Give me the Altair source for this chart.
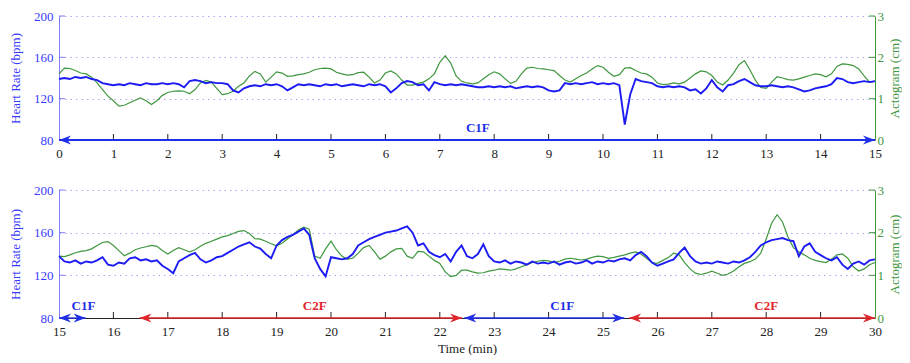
import altair as alt
import pandas as pd
import numpy as np

# ---------------- data ----------------
top_t = np.round(np.arange(0, 15.001, 0.1), 1)
top_hr = [
    139, 140, 139, 141, 140, 141, 139, 138, 135, 134,
    133, 134, 133, 135, 134, 133, 135, 134, 134, 135,
    134, 135, 134, 131, 137, 138, 137, 135, 136, 135,
    135, 134, 128, 126, 130, 132, 133, 132, 134, 133,
    134, 132, 128, 131, 134, 133, 134, 133, 132, 134,
    133, 134, 132, 133, 134, 133, 132, 134, 133, 134,
    132, 126, 130, 135, 137, 136, 133, 134, 128, 136,
    134, 133, 134, 133, 134, 133, 132, 131, 131, 132,
    131, 132, 131, 132, 130, 131, 132, 131, 132, 131,
    128, 127, 128, 135, 134, 135, 134, 135, 136, 134,
    135, 134, 135, 133, 95, 124, 139, 137, 136, 135,
    132, 131, 132, 131, 132, 131, 128, 129, 125, 130,
    138, 131, 127, 133, 134, 137, 139, 136, 133, 132,
    132, 133, 132, 131, 132, 131, 129, 127, 128, 130,
    131, 132, 134, 140, 139, 136, 135, 136, 137, 136,
    137,
]
top_act = [
    1.60, 1.74, 1.73, 1.68, 1.62, 1.60, 1.52, 1.38, 1.22, 1.06,
    0.95, 0.82, 0.84, 0.90, 0.96, 1.02, 0.95, 0.86, 0.95, 1.08,
    1.15, 1.18, 1.19, 1.18, 1.12, 1.22, 1.38, 1.44, 1.40, 1.25,
    1.10, 1.12, 1.18, 1.30, 1.38, 1.55, 1.66, 1.60, 1.40, 1.52,
    1.65, 1.62, 1.54, 1.55, 1.58, 1.60, 1.64, 1.70, 1.73, 1.74,
    1.72, 1.64, 1.60, 1.57, 1.58, 1.63, 1.64, 1.52, 1.38, 1.45,
    1.62, 1.67, 1.60, 1.45, 1.33, 1.33, 1.37, 1.40, 1.48, 1.60,
    1.88, 2.04, 1.86, 1.55, 1.42, 1.38, 1.36, 1.38, 1.48, 1.58,
    1.65, 1.60, 1.48, 1.37, 1.42, 1.60, 1.74, 1.76, 1.73, 1.72,
    1.70, 1.68, 1.56, 1.45, 1.40, 1.48, 1.56, 1.62, 1.72, 1.80,
    1.76, 1.64, 1.54, 1.58, 1.74, 1.75, 1.68, 1.62, 1.60, 1.52,
    1.38, 1.34, 1.35, 1.38, 1.36, 1.40, 1.50, 1.60, 1.67, 1.65,
    1.56, 1.40, 1.33, 1.45, 1.62, 1.82, 1.92, 1.70, 1.45, 1.27,
    1.25, 1.40, 1.53, 1.50, 1.46, 1.45, 1.48, 1.52, 1.56, 1.60,
    1.58, 1.53, 1.60, 1.78, 1.84, 1.83, 1.80, 1.72, 1.55, 1.40,
    1.42,
]

bot_t = np.round(np.arange(15, 30.001, 0.1), 1)
bot_hr = [
    138, 133, 132, 134, 131, 133, 132, 134, 137, 130,
    129, 132, 131, 136, 137, 134, 135, 133, 134, 129,
    126, 122, 133, 136, 139, 141, 135, 132, 134, 137,
    138, 141, 144, 147, 149, 151, 147, 145, 140, 136,
    148, 153, 156, 158, 161, 164, 158, 136, 126, 119,
    137, 136, 135, 136, 140, 148, 151, 154, 156, 158,
    160, 161, 162, 164, 166, 160, 148, 150, 142, 139,
    137, 140, 133, 142, 148, 138, 136, 140, 149, 138,
    133, 132, 134, 131, 133, 132, 130, 133, 131, 132,
    131, 133, 130, 132, 133, 131, 132, 134, 131, 133,
    132, 134, 133, 135, 136, 134, 139, 142, 138, 132,
    129, 131, 133, 135, 141, 146, 138, 133, 131, 132,
    131, 133, 132, 131, 133, 132, 134, 137, 142, 148,
    151, 153, 154, 155, 153, 152, 138, 147, 150, 142,
    139, 136, 134, 137, 130, 126, 131, 133, 130, 134,
    135,
]
bot_act = [
    1.45, 1.44, 1.48, 1.53, 1.56, 1.58, 1.62, 1.70, 1.77, 1.79,
    1.70, 1.58, 1.46, 1.52, 1.60, 1.64, 1.67, 1.70, 1.68, 1.58,
    1.50, 1.58, 1.65, 1.60, 1.55, 1.60, 1.68, 1.75, 1.80, 1.85,
    1.90, 1.93, 1.98, 2.03, 2.05, 1.98, 1.86, 1.85, 1.80, 1.74,
    1.69, 1.75, 1.85, 1.95, 2.06, 2.13, 2.08, 1.45, 1.40, 1.62,
    1.80, 1.60, 1.45, 1.38, 1.40, 1.52, 1.65, 1.70, 1.55, 1.38,
    1.45, 1.55, 1.62, 1.63, 1.45, 1.40, 1.56, 1.55, 1.45, 1.35,
    1.28, 1.08, 0.97, 1.00, 1.12, 1.12, 1.08, 1.05, 1.06, 1.10,
    1.12, 1.15, 1.14, 1.12, 1.15, 1.20, 1.25, 1.30, 1.33, 1.35,
    1.34, 1.30, 1.33, 1.38, 1.40, 1.38, 1.36, 1.38, 1.42, 1.45,
    1.44, 1.40, 1.42, 1.45, 1.48, 1.52, 1.55, 1.50, 1.40, 1.30,
    1.28, 1.35, 1.42, 1.52, 1.48, 1.30, 1.15, 1.05, 1.02, 1.05,
    1.10, 1.05, 1.00, 1.03, 1.10, 1.20, 1.28, 1.32, 1.38, 1.52,
    1.85, 2.22, 2.42, 2.25, 1.90, 1.65, 1.55, 1.48, 1.40, 1.35,
    1.32, 1.30, 1.38, 1.48, 1.50, 1.40, 1.20, 1.10, 1.15, 1.25,
    1.30,
]

# annotation segments (condition periods)
top_seg_start = [0.0]
top_seg_end = [15.0]
top_seg_label = ["C1F"]
top_seg_label_x = [7.7]

bot_seg_start = [15.0, 16.48, 22.45, 25.48]
bot_seg_end = [15.49, 22.41, 25.39, 30.0]
bot_seg_label = ["C1F", "C2F", "C1F", "C2F"]
bot_seg_label_x = [15.45, 19.7, 24.25, 28.0]

hr_ticks = [80, 120, 160, 200]
act_ticks = [0, 1, 2, 3]

# ---------------- style ----------------
FONT = "Liberation Serif"
BLUE = "#1c1cf2"
BLUE_T = "#3a3aff"
AXBLUE = "#8080ff"
GRID = "#a8a8f0"
GREEN = "#3f973f"
RED = "#e0262a"
DARK = "#222222"
COLORS = {"C1F": "#1f2fe8", "C2F": RED}
RIGHT_HEAD = "M0,0L-2,-0.75L-1.4,0L-2,0.75Z"
LEFT_HEAD = "M0,0L2,-0.75L1.4,0L2,0.75Z"
W = 816


def panel(t, hr, act, x0, x1, s0, s1, lab, labx, H, xtitle, line_w):
    df = pd.DataFrame({"t": t, "hr": hr, "act": act})
    xs = alt.Scale(domain=[x0, x1], nice=False, zero=False)
    xkw = dict(values=list(range(x0, x1 + 1)), tickSize=0, labelPadding=7,
               labelFont=FONT, labelFontSize=13, labelColor=DARK,
               domainColor=DARK, domainWidth=1, grid=False, labelFlush=False,
               titleFont=FONT, titleFontSize=13, titleFontWeight="normal",
               titleColor=DARK, titlePadding=4)
    xkw["title"] = xtitle if xtitle else ""
    xaxis = alt.Axis(**xkw)
    ys_hr = alt.Scale(domain=[80, 200], nice=False, zero=False)
    ys_act = alt.Scale(domain=[0, 3], nice=False, zero=False)

    hr_axis = alt.Axis(orient="left", values=hr_ticks, tickSize=0, labelPadding=6,
                       labelFont=FONT, labelFontSize=13, labelColor=BLUE_T,
                       domainColor=AXBLUE, domainWidth=1, grid=True,
                       gridColor=GRID, gridDash=[1.5, 4], gridWidth=1,
                       title="Heart Rate (bpm)", titleFont=FONT, titleFontSize=13,
                       titleFontWeight="normal", titleColor=BLUE_T, titlePadding=11)
    act_axis = alt.Axis(orient="right", values=act_ticks, tickSize=0, labelPadding=2,
                        labelFont=FONT, labelFontSize=13, labelColor=GREEN,
                        domainColor=GREEN, domainWidth=1, grid=False,
                        title="Actogram (cm)", titleFont=FONT, titleFontSize=13,
                        titleFontWeight="normal", titleColor=GREEN, titlePadding=5,
                        titleAngle=270, titleBaseline="top")

    act_line = alt.Chart(df).mark_line(color=GREEN, strokeWidth=1.2).encode(
        x=alt.X("t:Q", scale=xs, axis=xaxis),
        y=alt.Y("act:Q", scale=ys_act, axis=act_axis),
    )
    hr_line = alt.Chart(df).mark_line(color=BLUE, strokeWidth=1.9).encode(
        x=alt.X("t:Q", scale=xs, axis=xaxis),
        y=alt.Y("hr:Q", scale=ys_hr, axis=hr_axis),
    )

    xt = pd.DataFrame({"v": list(range(x0 + 1, x1))})
    x_ticks = alt.Chart(xt).mark_rule(color=DARK, strokeWidth=1).encode(
        x=alt.X("v:Q", scale=xs, axis=xaxis),
        y=alt.value(H), y2=alt.value(H - 6),
    )
    yt = pd.DataFrame({"v": hr_ticks[1:]})
    left_ticks = alt.Chart(yt).mark_rule(color=AXBLUE, strokeWidth=1).encode(
        y=alt.Y("v:Q", scale=ys_hr, axis=None),
        x=alt.value(0), x2=alt.value(6),
    )
    right_ticks = alt.Chart(yt).mark_rule(color=GREEN, strokeWidth=1).encode(
        y=alt.Y("v:Q", scale=ys_hr, axis=None),
        x=alt.value(W - 6), x2=alt.value(W),
    )

    seg = pd.DataFrame({"s": s0, "e": s1, "lab": lab, "lx": labx})
    col = alt.Color("lab:N", scale=alt.Scale(domain=list(COLORS.keys()),
                                             range=list(COLORS.values())), legend=None)
    seg_line = alt.Chart(seg).mark_rule(strokeWidth=line_w).encode(
        x=alt.X("s:Q", scale=xs, axis=xaxis), x2="e:Q",
        y=alt.value(H), color=col,
    )
    lh = alt.Chart(seg).mark_point(shape=LEFT_HEAD, filled=True, size=144,
                                   opacity=1, strokeWidth=0).encode(
        x=alt.X("s:Q", scale=xs, axis=xaxis), y=alt.value(H), color=col,
    )
    rh = alt.Chart(seg).mark_point(shape=RIGHT_HEAD, filled=True, size=144,
                                   opacity=1, strokeWidth=0).encode(
        x=alt.X("e:Q", scale=xs, axis=xaxis), y=alt.value(H), color=col,
    )
    txt = alt.Chart(seg).mark_text(font=FONT, fontSize=13, fontWeight="bold",
                                   baseline="bottom", dy=-5).encode(
        x=alt.X("lx:Q", scale=xs, axis=xaxis), y=alt.value(H),
        text="lab:N", color=col,
    )

    return alt.layer(act_line, hr_line, x_ticks, left_ticks, right_ticks,
                     seg_line, lh, rh, txt).resolve_scale(y="independent").properties(
        width=W, height=H)


top = panel(top_t, top_hr, top_act, 0, 15, top_seg_start, top_seg_end,
            top_seg_label, top_seg_label_x, 124, None, 2)
bot = panel(bot_t, bot_hr, bot_act, 15, 30, bot_seg_start, bot_seg_end,
            bot_seg_label, bot_seg_label_x, 128, "Time (min)", 1.3)

chart = alt.vconcat(top, bot, spacing=24).configure_view(stroke=None).properties(
    padding={"left": 1, "top": 2, "right": 0, "bottom": 0},
    background="white",
)

chart.save("out.html", embed_options={"renderer": "svg", "actions": False})
